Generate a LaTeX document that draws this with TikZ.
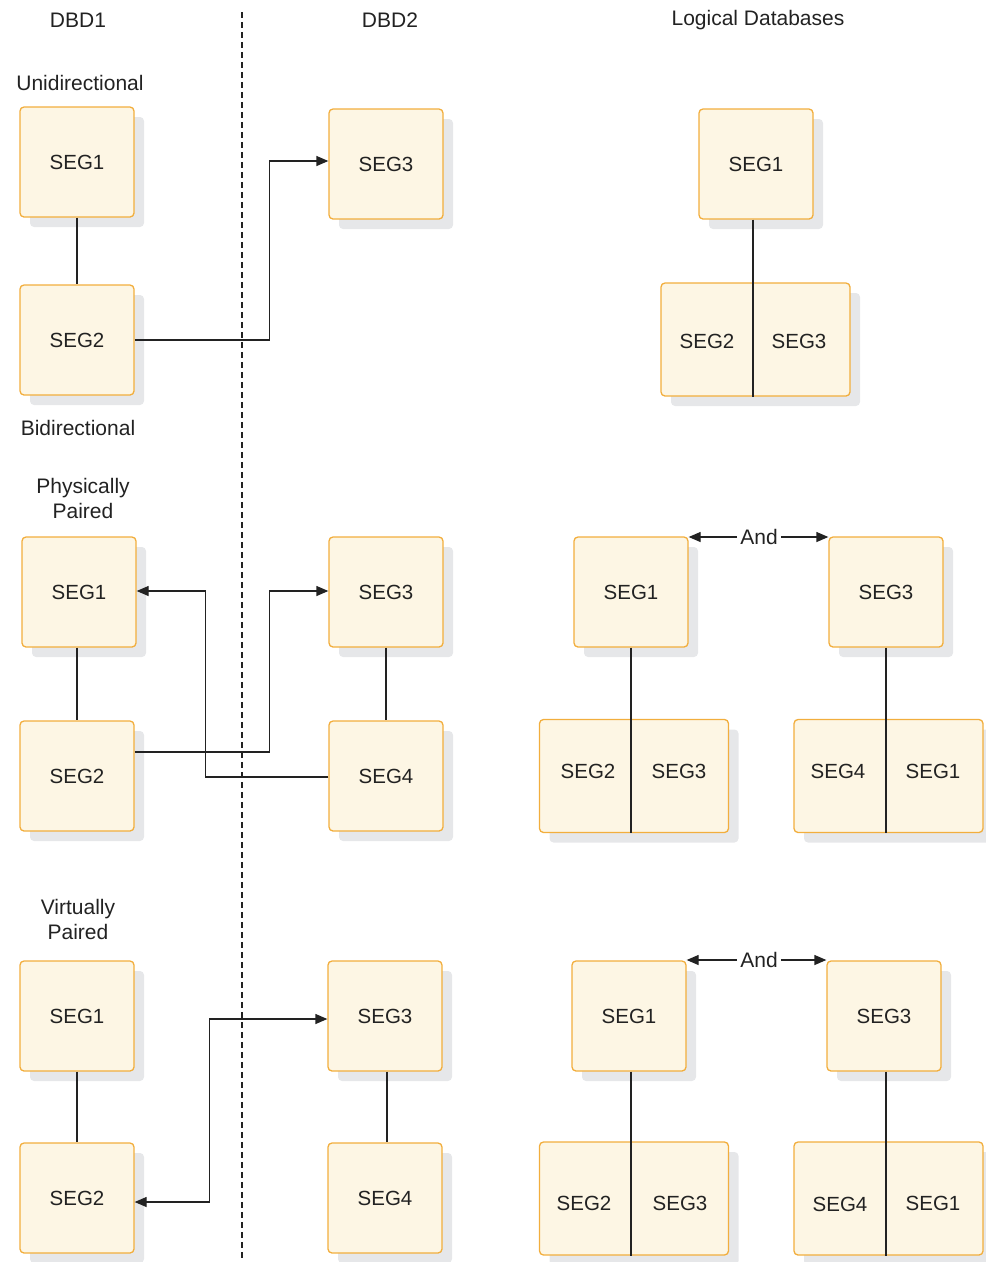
\documentclass[tikz,border=0pt]{standalone}
\usepackage{fontspec}
\setmainfont{Liberation Sans}
\usetikzlibrary{arrows.meta,shadows}
\definecolor{segfill}{HTML}{FDF6E4}
\definecolor{segline}{HTML}{F2AE3D}
\definecolor{shade}{HTML}{E6E7E9}
\definecolor{ink}{HTML}{222222}
\begin{document}
\begin{tikzpicture}[x=1pt,y=-1pt,
  every node/.style={font=\fontsize{20.5}{25}\selectfont, text=ink},
  seg/.style={draw=segline, line width=1.3pt, fill=segfill, rounded corners=4pt,
    minimum width=114pt, minimum height=110pt, inner sep=0pt,
    general shadow={fill=shade, draw=none, shadow xshift=10pt, shadow yshift=-10pt}},
  pair/.style={seg, minimum width=189pt, minimum height=113pt},
  conn/.style={draw=ink, line width=1.3pt},
  arr/.style={conn, -{Triangle[length=12pt,width=10pt]}},
  lbl/.style={inner sep=0pt, align=center, font=\fontsize{21}{25}\selectfont}]
\useasboundingbox (0,0) rectangle (986,1262);

% dashed separator
\coordinate (dtop) at (242,12);
\coordinate (dbot) at (242,1262);
\draw[ink, line width=1.1pt, dash pattern=on 6pt off 4pt] (dtop) -- (dbot);

% headings
\node[lbl] (h1) at (78,20) {DBD1};
\node[lbl] (h2) at (390,20) {DBD2};
\node[lbl] (h3) at (758,20) {Logical Databases};
\node[lbl] (uni) at (80,83) {Unidirectional};
\node[lbl] (bi) at (78,428) {Bidirectional};
\node[lbl] (pp) at (83,498) {Physically\\Paired};
\node[lbl] (vp) at (78,919) {Virtually\\Paired};

% ---------- Unidirectional ----------
\node[seg] (a1) at (77,162) {SEG1};
\node[seg] (a2) at (77,340) {SEG2};
\node[seg] (a3) at (386,164) {SEG3};
\draw[conn] (a1.south) -- (a2.north);
\draw[arr] (a2.east) -| ([xshift=-59pt,yshift=3pt]a3.west) -- ([yshift=3pt]a3.west);

\node[seg] (l0) at (756,164) {SEG1};
\node[pair] (lc0) at (755.5,339.5) {};
\node (l0a) at (707,341) {SEG2};
\node (l0b) at (799,341) {SEG3};
\draw[conn] ([xshift=-3pt]l0.south) -- ([xshift=-3pt]l0.south |- lc0.south);

% ---------- Physically paired ----------
\node[seg] (b1) at (79,592) {SEG1};
\node[seg] (b2) at (77,776) {SEG2};
\node[seg] (b3) at (386,592) {SEG3};
\node[seg] (b4) at (386,776) {SEG4};
\draw[conn] (b2.north |- b1.south) -- (b2.north);
\draw[conn] (b3.south) -- (b4.north);
\draw[arr] ([yshift=24pt]b2.east) -| ([xshift=-59pt,yshift=1pt]b3.west) -- ([yshift=1pt]b3.west);
\draw[arr] ([yshift=-1pt]b4.west) -| ([xshift=69pt,yshift=1pt]b1.east) -- ([yshift=1pt]b1.east);

\node[seg] (l1) at (631,592) {SEG1};
\node[pair] (l2) at (634,776) {};
\node (l2a) at (588,771) {SEG2};
\node (l2b) at (679,771) {SEG3};
\node[seg] (l3) at (886,592) {SEG3};
\node[pair] (l4) at (888.5,776) {};
\node (l4a) at (838,771) {SEG4};
\node (l4b) at (933,771) {SEG1};
\draw[conn] (l1.south) -- (l1.south |- l2.south);
\draw[conn] (l3.south) -- (l3.south |- l4.south);
\node[lbl, inner sep=3pt] (and1) at (759,537) {And};
\draw[arr] (and1.west) -- (and1.west -| l1.east);
\draw[arr] (and1.east) -- (and1.east -| l3.west);

% ---------- Virtually paired ----------
\node[seg] (c1) at (77,1016) {SEG1};
\node[seg] (c2) at (77,1198) {SEG2};
\node[seg] (c3) at (385,1016) {SEG3};
\node[seg] (c4) at (385,1198) {SEG4};
\draw[conn] (c1.south) -- (c2.north);
\draw[conn] ([xshift=2pt]c3.south) -- ([xshift=2pt]c4.north);
\draw[conn, {Triangle[length=12pt,width=10pt]}-{Triangle[length=12pt,width=10pt]}]
  ([yshift=-4pt]c2.east) -| ([xshift=-118pt,yshift=-3pt]c3.west) -- ([yshift=-3pt]c3.west);

\node[seg] (l5) at (629,1016) {SEG1};
\node[pair] (l6) at (634,1198.5) {};
\node (l6a) at (584,1203) {SEG2};
\node (l6b) at (680,1203) {SEG3};
\node[seg] (l7) at (884,1016) {SEG3};
\node[pair] (l8) at (888.5,1198.5) {};
\node (l8a) at (840,1204) {SEG4};
\node (l8b) at (933,1203) {SEG1};
\draw[conn] ([xshift=2pt]l5.south) -- ([xshift=2pt]l5.south |- l6.south);
\draw[conn] ([xshift=2pt]l7.south) -- ([xshift=2pt]l7.south |- l8.south);
\node[lbl, inner sep=3pt] (and2) at (759,960) {And};
\draw[arr] (and2.west) -- (and2.west -| l5.east);
\draw[arr] (and2.east) -- (and2.east -| l7.west);
\end{tikzpicture}
\end{document}
